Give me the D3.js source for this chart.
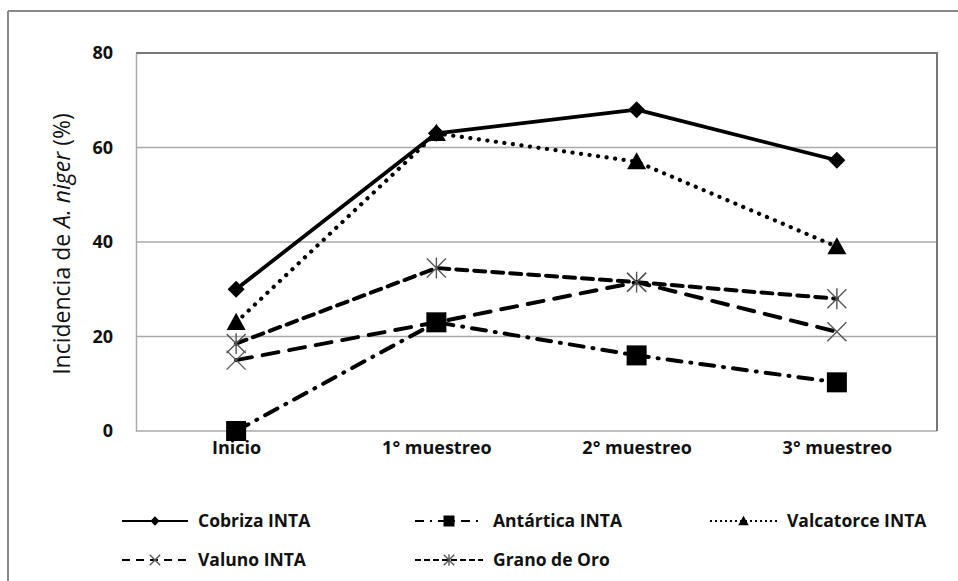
<!DOCTYPE html>
<html>
<head>
<meta charset="utf-8">
<script src="https://cdn.jsdelivr.net/npm/d3@7"></script>
<style>
  html, body { margin: 0; padding: 0; background: #fff; }
  svg { display: block; }
  text { font-family: "Open Sans", "Noto Sans", sans-serif; fill: #111; }
</style>
</head>
<body>
<svg id="chart" width="958" height="581"></svg>
<script>
// Sampling moments (x categories)
const categories = ["Inicio", "1° muestreo", "2° muestreo", "3° muestreo"];
const yTicks = [0, 20, 40, 60, 80];

// Incidence of A. niger (%) per cultivar
const cobriza    = [30, 63, 68, 57.3];
const antartica  = [0, 23, 16, 10.3];
const valcatorce = [23, 63, 57, 39];
const valuno     = [15, 23, 31.5, 21];
const granoDeOro = [18.5, 34.5, 31.5, 28];

const seriesNames = ["Cobriza INTA", "Antártica INTA", "Valcatorce INTA", "Valuno INTA", "Grano de Oro"];
const seriesValues = [cobriza, antartica, valcatorce, valuno, granoDeOro];

const styles = [
  { dash: null,            width: 3.8, marker: "diamond",  cap: "butt"  },
  { dash: "14,9,1,9",      width: 4,   marker: "square",   cap: "round" },
  { dash: "0.1,8.5",       width: 4.2, marker: "triangle", cap: "round" },
  { dash: "16,11",         width: 4,   marker: "cross",    cap: "round" },
  { dash: "11,7",          width: 4,   marker: "asterisk", cap: "round" }
];

const svg = d3.select("#chart");
const W = 958, H = 581;
const plot = { left: 136, right: 937, top: 53, bottom: 431 };

// outer frame (top and left edges visible)
svg.append("line").attr("x1", 8).attr("x2", W).attr("y1", 11).attr("y2", 11)
  .attr("stroke", "#888").attr("stroke-width", 2);
svg.append("line").attr("x1", 8).attr("x2", 8).attr("y1", 11).attr("y2", H)
  .attr("stroke", "#888").attr("stroke-width", 2);

const x = d3.scalePoint().domain(categories).range([plot.left, plot.right]).padding(0.5);
const y = d3.scaleLinear().domain([0, 80]).range([plot.bottom, plot.top]);

// gridlines
svg.append("g").selectAll("line").data(yTicks).join("line")
  .attr("x1", plot.left).attr("x2", plot.right)
  .attr("y1", d => y(d)).attr("y2", d => y(d))
  .attr("stroke", "#aaa").attr("stroke-width", 1.5);

// plot area border: top and right darker
svg.append("path")
  .attr("d", `M${plot.left},${plot.top}H${plot.right}V${plot.bottom}`)
  .attr("fill", "none").attr("stroke", "#777").attr("stroke-width", 2);

// y axis
const yAxis = d3.axisLeft(y).tickValues(yTicks).tickSize(0).tickPadding(23);
const gy = svg.append("g").attr("transform", `translate(${plot.left},0)`).call(yAxis);
gy.select(".domain").attr("stroke", "#aaa").attr("stroke-width", 1.5);
gy.selectAll("text").style("font-size", "18px").style("font-weight", "bold")
  .style("font-family", "'Open Sans', sans-serif").attr("fill", "#111");

// x axis labels
const xAxis = d3.axisBottom(x).tickSize(0).tickPadding(10);
const gx = svg.append("g").attr("transform", `translate(0,${plot.bottom})`).call(xAxis);
gx.select(".domain").remove();
gx.selectAll("text").style("font-size", "18px").style("font-weight", "bold")
  .style("font-family", "'Open Sans', sans-serif").attr("fill", "#111");

// y axis title
const yt = svg.append("text")
  .attr("transform", `translate(70,${(plot.top + plot.bottom) / 2 + 2}) rotate(-90)`)
  .attr("text-anchor", "middle")
  .style("font-size", "23px");
yt.append("tspan").text("Incidencia de ");
yt.append("tspan").style("font-style", "italic").text("A. niger");
yt.append("tspan").text(" (%)");

// marker drawing
function drawMarker(g, type, cx, cy, s) {
  if (type === "diamond") {
    const r = 8.5 * s;
    g.append("path").attr("d", `M${cx},${cy - r}L${cx + r},${cy}L${cx},${cy + r}L${cx - r},${cy}Z`).attr("fill", "#000");
  } else if (type === "square") {
    const r = 10 * s;
    g.append("rect").attr("x", cx - r).attr("y", cy - r).attr("width", 2 * r).attr("height", 2 * r).attr("fill", "#000");
  } else if (type === "triangle") {
    const r = 9.5 * s;
    g.append("path").attr("d", `M${cx},${cy - r}L${cx + r},${cy + r * 0.8}L${cx - r},${cy + r * 0.8}Z`).attr("fill", "#000");
  } else if (type === "cross") {
    const r = 9.5 * s;
    g.append("path").attr("d", `M${cx - r},${cy - r}L${cx + r},${cy + r}M${cx - r},${cy + r}L${cx + r},${cy - r}`)
      .attr("stroke", "#555").attr("stroke-width", 1.4).attr("fill", "none");
  } else if (type === "asterisk") {
    const r = 9.5 * s;
    g.append("path").attr("d", `M${cx - r},${cy - r}L${cx + r},${cy + r}M${cx - r},${cy + r}L${cx + r},${cy - r}M${cx},${cy - r * 1.1}L${cx},${cy + r * 1.1}`)
      .attr("stroke", "#555").attr("stroke-width", 1.4).attr("fill", "none");
  }
}

const line = d3.line().x((d, i) => x(categories[i])).y(d => y(d));

// draw series: back to front
const order = [4, 3, 1, 2, 0];
order.forEach(k => {
  const st = styles[k];
  const g = svg.append("g");
  g.append("path").datum(seriesValues[k])
    .attr("d", line)
    .attr("fill", "none").attr("stroke", "#000")
    .attr("stroke-width", st.width)
    .attr("stroke-linecap", st.cap)
    .attr("stroke-linejoin", "round")
    .attr("stroke-dasharray", st.dash);
  seriesValues[k].forEach((v, i) => drawMarker(g, st.marker, x(categories[i]), y(v), 1));
});

// legend
const legendPos = [
  { sx: 122, tx: 198, y: 521 },
  { sx: 415, tx: 493, y: 521 },
  { sx: 710, tx: 787, y: 521 },
  { sx: 122, tx: 198, y: 560 },
  { sx: 415, tx: 493, y: 560 }
];
const legendDash = [null, "9,6,2,6", "2,3", "8,6", "6,3"];
seriesNames.forEach((name, k) => {
  const p = legendPos[k];
  const g = svg.append("g");
  const len = p.tx - p.sx - 10;
  g.append("line").attr("x1", p.sx).attr("x2", p.sx + len).attr("y1", p.y).attr("y2", p.y)
    .attr("stroke", "#000").attr("stroke-width", 2)
    .attr("stroke-dasharray", legendDash[k]);
  drawMarker(g, styles[k].marker, p.sx + len / 2, p.y, 0.55);
  g.append("text").attr("x", p.tx).attr("y", p.y).attr("dy", "0.35em")
    .style("font-size", "17.5px").style("font-weight", "bold").text(name);
});
</script>
</body>
</html>
